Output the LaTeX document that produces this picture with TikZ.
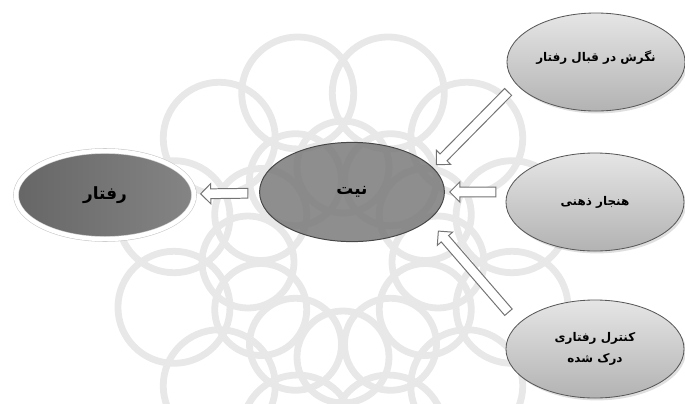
\documentclass[tikz,border=0pt]{standalone}
\usepackage{fontspec}
\newfontfamily\fafont[Script=Arabic]{DejaVu Sans}
\TeXXeTstate=1
\usetikzlibrary{shapes.geometric, shapes.arrows, shadows, calc}
\newcommand{\rtl}[1]{\beginR #1\endR}
\tikzset{
  wm/.style     = {draw=black!9, line width=1.7mm},
  base/.style   = {ellipse, inner sep=0pt, align=center, text=black},
  srcell/.style = {base, draw=black!65, line width=0.6pt, top color=black!10, bottom color=black!30,
                   minimum width=4.45cm, minimum height=2.45cm,
                   font=\fafont\bfseries\fontsize{8.5}{15}\selectfont,
                   drop shadow={opacity=0.25, shadow xshift=0.5mm, shadow yshift=-0.6mm}},
  midell/.style = {base, draw=black!72, line width=0.7pt, fill=black!52, fill opacity=0.85,
                   text opacity=1, minimum width=4.62cm, minimum height=2.48cm,
                   font=\fafont\bfseries\fontsize{12}{15}\selectfont},
  behell/.style = {base, draw=black!22, double=white, double distance=1.1mm,
                   left color=black!60, right color=black!48,
                   minimum width=4.45cm, minimum height=2.2cm,
                   font=\fafont\bfseries\fontsize{12}{15}\selectfont},
  hollow/.style = {single arrow, draw=black!55, fill=white, line width=0.7pt, inner sep=1.1mm,
                   minimum width=4.9mm, single arrow head extend=1.3mm},
}

\begin{document}
\begin{tikzpicture}[x=0.025cm, y=-0.025cm]
\useasboundingbox (0,0) rectangle (685,403);
\coordinate (C) at (343,262);

% --- faint rosette watermark behind everything ---------------------------------
\begin{scope}
  \clip (0,0) rectangle (685,403);
  \foreach \a in {0,30,...,330} {
    \draw[wm] ($(C)+(\a:95)$) circle[radius=1.15cm];
    \draw[wm] ($(C)+(\a+15:175)$) circle[radius=1.4cm];
  }
\end{scope}

% --- the five ellipses ----------------------------------------------------------
\node[behell] (beh)  at (105,195) {\rtl{رفتار}};
\node[midell] (int)  at (352,192) {\rtl{نیت}};
\node[srcell] (att)  at (596,62)  {\raisebox{3mm}{\rtl{نگرش در قبال رفتار}}};
\node[srcell] (norm) at (595,202) {\rtl{هنجار ذهنی}};
\node[srcell] (ctrl) at (595,349) {\rtl{کنترل رفتاری}\\\rtl{درک شده}};

% free ends of the two slanted arrows
\coordinate (t1) at (510,90);
\coordinate (h1) at (438,163);
\coordinate (t3) at (510,314);
\coordinate (h3) at (440,233);

% --- hollow block arrows ---------------------------------------------------------
\path (int) -- (beh)
  node[midway, sloped, allow upside down, hollow, minimum height=1.18cm] (a0) {};
\path (norm.west |- int.east) -- (int.east)
  node[midway, sloped, allow upside down, hollow, minimum height=1.15cm] (a2) {};
\path (t1) -- (h1)
  node[midway, sloped, allow upside down, hollow, minimum height=2.55cm] (a1) {};
\path (t3) -- (h3)
  node[midway, sloped, allow upside down, hollow, minimum height=2.68cm] (a3) {};
\end{tikzpicture}
\end{document}
